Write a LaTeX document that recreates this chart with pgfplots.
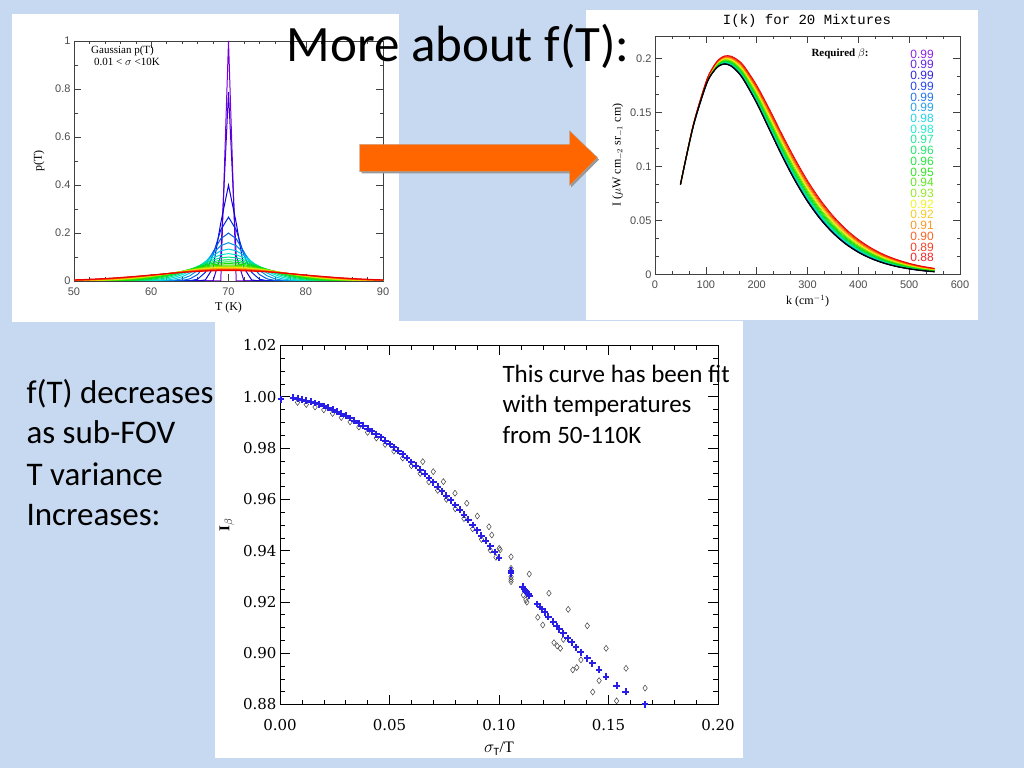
\documentclass[border=0pt]{standalone}
\usepackage{fontspec}
\setmainfont{Carlito}
\newfontfamily\idlsans{Liberation Sans}
\newfontfamily\idlserif{Liberation Serif}
\newfontfamily\idlmono{Liberation Mono}
\newfontfamily\dvserif{DejaVu Serif}
\usepackage{pgfplots}
\pgfplotsset{compat=1.18}
\usepackage{pgfplotstable}

\definecolor{slide}{RGB}{198,217,240}
\definecolor{arrow}{RGB}{255,102,0}
\definecolor{crossblue}{RGB}{40,30,230}
% rainbow, purple (small sigma) to red (large sigma)
\definecolor{r0}{RGB}{121,0,217}
\definecolor{r1}{RGB}{69,0,217}
\definecolor{r2}{RGB}{17,0,217}
\definecolor{r3}{RGB}{0,37,230}
\definecolor{r4}{RGB}{0,92,230}
\definecolor{r5}{RGB}{0,147,230}
\definecolor{r6}{RGB}{0,202,230}
\definecolor{r7}{RGB}{0,230,202}
\definecolor{r8}{RGB}{0,224,144}
\definecolor{r9}{RGB}{0,224,90}
\definecolor{r10}{RGB}{0,224,36}
\definecolor{r11}{RGB}{18,224,0}
\definecolor{r12}{RGB}{72,224,0}
\definecolor{r13}{RGB}{129,230,0}
\definecolor{r14}{RGB}{237,242,0}
\definecolor{r15}{RGB}{247,193,0}
\definecolor{r16}{RGB}{247,134,0}
\definecolor{r17}{RGB}{247,74,0}
\definecolor{r18}{RGB}{242,29,0}
\definecolor{r19}{RGB}{235,0,0}

% I(k) for the 20 mixtures, c0 = single 70 K curve
\pgfplotstableread{
k c0 c1 c2 c3 c4 c5 c6 c7 c8 c9 c10 c11 c12 c13 c14 c15 c16 c17 c18 c19
50 0.0829 0.0829 0.0829 0.0829 0.0829 0.0829 0.0829 0.0829 0.0829 0.0829 0.0830 0.0830 0.0830 0.0830 0.0830 0.0830 0.0830 0.0831 0.0831 0.0831
75 0.1367 0.1367 0.1367 0.1367 0.1368 0.1368 0.1368 0.1369 0.1370 0.1370 0.1371 0.1372 0.1373 0.1374 0.1375 0.1376 0.1376 0.1377 0.1378 0.1379
100 0.1747 0.1747 0.1747 0.1748 0.1749 0.1750 0.1751 0.1752 0.1754 0.1755 0.1757 0.1760 0.1762 0.1764 0.1767 0.1769 0.1771 0.1774 0.1776 0.1778
112.5 0.1862 0.1862 0.1863 0.1863 0.1864 0.1866 0.1867 0.1869 0.1871 0.1874 0.1877 0.1880 0.1883 0.1886 0.1890 0.1893 0.1897 0.1900 0.1903 0.1906
125 0.1927 0.1927 0.1928 0.1929 0.1930 0.1932 0.1934 0.1937 0.1940 0.1944 0.1947 0.1952 0.1956 0.1961 0.1965 0.1970 0.1975 0.1980 0.1984 0.1988
137.5 0.1948 0.1948 0.1949 0.1950 0.1952 0.1954 0.1957 0.1960 0.1964 0.1968 0.1973 0.1978 0.1984 0.1989 0.1995 0.2001 0.2007 0.2013 0.2018 0.2023
150 0.1928 0.1928 0.1929 0.1931 0.1933 0.1936 0.1939 0.1943 0.1948 0.1953 0.1958 0.1965 0.1971 0.1978 0.1985 0.1993 0.2000 0.2006 0.2013 0.2019
162.5 0.1876 0.1876 0.1877 0.1879 0.1882 0.1885 0.1889 0.1894 0.1900 0.1906 0.1913 0.1920 0.1928 0.1937 0.1945 0.1954 0.1962 0.1971 0.1979 0.1986
175 0.1797 0.1797 0.1799 0.1801 0.1804 0.1808 0.1813 0.1819 0.1825 0.1833 0.1841 0.1850 0.1860 0.1870 0.1880 0.1891 0.1901 0.1911 0.1920 0.1929
200 0.1587 0.1587 0.1589 0.1592 0.1596 0.1601 0.1607 0.1614 0.1622 0.1631 0.1642 0.1653 0.1665 0.1678 0.1690 0.1703 0.1716 0.1728 0.1740 0.1751
225 0.1342 0.1343 0.1344 0.1348 0.1352 0.1358 0.1365 0.1373 0.1383 0.1393 0.1405 0.1418 0.1432 0.1446 0.1461 0.1476 0.1491 0.1505 0.1519 0.1531
250 0.1097 0.1098 0.1100 0.1103 0.1108 0.1114 0.1121 0.1130 0.1140 0.1151 0.1164 0.1177 0.1192 0.1207 0.1222 0.1238 0.1253 0.1269 0.1283 0.1296
275 0.0872 0.0873 0.0875 0.0878 0.0883 0.0889 0.0896 0.0905 0.0915 0.0926 0.0939 0.0953 0.0968 0.0983 0.0999 0.1015 0.1030 0.1045 0.1060 0.1073
300 0.0676 0.0677 0.0678 0.0682 0.0686 0.0692 0.0699 0.0707 0.0717 0.0728 0.0740 0.0754 0.0768 0.0782 0.0797 0.0812 0.0827 0.0842 0.0855 0.0868
325 0.0514 0.0515 0.0516 0.0519 0.0524 0.0529 0.0536 0.0543 0.0552 0.0562 0.0574 0.0586 0.0599 0.0612 0.0626 0.0640 0.0654 0.0667 0.0680 0.0692
350 0.0384 0.0384 0.0386 0.0389 0.0393 0.0397 0.0403 0.0410 0.0418 0.0427 0.0437 0.0448 0.0460 0.0472 0.0484 0.0497 0.0509 0.0521 0.0533 0.0543
375 0.0282 0.0282 0.0284 0.0286 0.0290 0.0294 0.0299 0.0305 0.0312 0.0320 0.0329 0.0338 0.0348 0.0359 0.0370 0.0381 0.0391 0.0402 0.0412 0.0421
400 0.0205 0.0205 0.0207 0.0209 0.0211 0.0215 0.0219 0.0224 0.0230 0.0237 0.0245 0.0253 0.0261 0.0270 0.0279 0.0289 0.0298 0.0307 0.0315 0.0323
425 0.0147 0.0147 0.0148 0.0150 0.0152 0.0155 0.0159 0.0163 0.0168 0.0174 0.0180 0.0187 0.0194 0.0201 0.0209 0.0216 0.0224 0.0231 0.0239 0.0245
450 0.0104 0.0104 0.0105 0.0106 0.0108 0.0111 0.0114 0.0117 0.0121 0.0126 0.0131 0.0136 0.0142 0.0148 0.0154 0.0161 0.0167 0.0173 0.0179 0.0184
475 0.0073 0.0073 0.0074 0.0075 0.0077 0.0078 0.0081 0.0084 0.0087 0.0091 0.0095 0.0099 0.0104 0.0109 0.0114 0.0119 0.0124 0.0129 0.0134 0.0138
500 0.0051 0.0051 0.0052 0.0053 0.0054 0.0055 0.0057 0.0059 0.0062 0.0065 0.0068 0.0072 0.0075 0.0079 0.0083 0.0087 0.0091 0.0095 0.0099 0.0102
525 0.0035 0.0035 0.0036 0.0036 0.0037 0.0038 0.0040 0.0042 0.0044 0.0046 0.0048 0.0051 0.0054 0.0057 0.0060 0.0063 0.0066 0.0069 0.0072 0.0075
550 0.0024 0.0024 0.0024 0.0025 0.0026 0.0027 0.0028 0.0029 0.0031 0.0032 0.0034 0.0037 0.0039 0.0041 0.0044 0.0046 0.0048 0.0051 0.0053 0.0055
}\ktab

% I_beta vs sigma_T/T : blue fit points
\pgfplotstableread{
x y
0.0005 0.9990
0.006 0.9996
0.008 0.9993
0.010 0.9989
0.012 0.9985
0.014 0.9981
0.016 0.9976
0.018 0.9970
0.020 0.9964
0.022 0.9957
0.024 0.9950
0.026 0.9942
0.028 0.9934
0.030 0.9926
0.032 0.9917
0.034 0.9907
0.036 0.9897
0.038 0.9887
0.040 0.9876
0.042 0.9865
0.044 0.9854
0.046 0.9842
0.048 0.9829
0.050 0.9816
0.052 0.9803
0.054 0.9790
0.056 0.9776
0.058 0.9761
0.060 0.9746
0.062 0.9731
0.064 0.9716
0.066 0.9700
0.068 0.9683
0.070 0.9667
0.072 0.9650
0.074 0.9632
0.076 0.9615
0.078 0.9596
0.080 0.9578
0.082 0.9559
0.084 0.9540
0.086 0.9520
0.088 0.9500
0.090 0.9480
0.092 0.9459
0.094 0.9438
0.096 0.9417
0.098 0.9395
0.100 0.9373
0.1055 0.9322
0.1055 0.9312
0.1108 0.9259
0.1114 0.9250
0.1120 0.9244
0.1127 0.9238
0.1134 0.9231
0.1138 0.9224
0.1175 0.9192
0.1187 0.9181
0.1198 0.9171
0.1210 0.9160
0.1225 0.9142
0.1248 0.9123
0.1263 0.9106
0.1275 0.9093
0.1294 0.9078
0.1314 0.9058
0.1332 0.9043
0.1352 0.9023
0.1373 0.9004
0.1403 0.8980
0.1426 0.8961
0.1457 0.8935
0.1489 0.8908
0.1537 0.8873
0.1579 0.8850
0.1667 0.8801
}\bluefit

% single-temperature points (diamonds)
\pgfplotstableread{
x y
0.008 0.9978
0.012 0.9970
0.016 0.9960
0.020 0.9949
0.024 0.9935
0.028 0.9919
0.032 0.9902
0.036 0.9882
0.040 0.9861
0.044 0.9839
0.048 0.9814
0.052 0.9788
0.056 0.9761
0.060 0.9731
0.064 0.9701
0.068 0.9668
0.072 0.9635
0.076 0.9600
0.080 0.9563
0.084 0.9525
0.088 0.9485
0.092 0.9444
0.096 0.9402
0.0652 0.9747
0.0700 0.9708
0.0746 0.9669
0.0799 0.9624
0.0853 0.9585
0.0901 0.9535
0.0954 0.9493
0.0967 0.9461
0.1001 0.9409
0.0986 0.9374
0.1005 0.9403
0.1055 0.9376
0.1055 0.9331
0.1055 0.9298
0.1055 0.9288
0.1055 0.9279
0.1138 0.9309
0.1111 0.9227
0.1123 0.9208
0.1127 0.9199
0.1228 0.9234
0.1177 0.9140
0.1200 0.9110
0.1316 0.9171
0.1294 0.9054
0.1251 0.9041
0.1266 0.9028
0.1280 0.9019
0.1403 0.9107
0.1374 0.8974
0.1337 0.8935
0.1355 0.8944
0.1489 0.9019
0.1457 0.8893
0.1428 0.8849
0.1580 0.8941
0.1537 0.8814
0.1667 0.8864
}\diam

\pgfplotsset{
  idl/.style={
    scale only axis, clip=true,
    tick align=inside,
    axis line style={black!75, line width=0.6pt},
    every tick/.style={black!75, line width=0.5pt},
    major tick length=7pt, minor tick length=3.5pt,
    scaled ticks=false,
    tick label style={font=\idlsans\fontsize{11}{12}\selectfont, text=black!70},
    xticklabel style={yshift=-3pt},
    label style={font=\idlserif\fontsize{12}{13}\selectfont},
  }
}

\begin{document}
\begin{tikzpicture}
\useasboundingbox (0pt,0pt) rectangle (1024pt,768pt);
\begin{scope}[x=1pt,y=1pt]
\fill[slide] (0,0) rectangle (1024,768);
\fill[white] (12,446) rectangle (399,754);
\fill[white] (586,448) rectangle (978,758);
\fill[white] (215,10) rectangle (743,447);
\end{scope}

% ---- p(T) panel
\begin{axis}[idl, at={(74pt,487pt)}, anchor=south west, width=309pt, height=240pt,
  xmin=50, xmax=90, ymin=0, ymax=1,
  xtick={50,60,70,80,90}, xticklabels={50,60,70,80,90},
  ytick={0,0.2,0.4,0.6,0.8,1}, yticklabels={0,0.2,0.4,0.6,0.8,1},
  minor x tick num=4, minor y tick num=1,
  xlabel={T (K)}, ylabel={p(T)}, ylabel style={yshift=4pt},
  every axis plot/.append style={line width=1pt}]
\addplot[r0] coordinates {(50,0) (69,0) (70,1) (71,0) (90,0)};
\addplot[r1] coordinates {(50,0) (67,0) (68,0.0003) (69,0.1064) (70,0.7865) (71,0.1064) (72,0.0003) (73,0) (90,0)};
\addplot[r2] coordinates {(50,0) (65,0) (66,0.0001) (67,0.0044) (68,0.054) (69,0.242) (70,0.399) (71,0.242) (72,0.054) (73,0.0044) (74,0.0001) (75,0) (90,0)};
\addplot[r3] coordinates {(50,0) (63,0) (64,0.0001) (65,0.0010) (66,0.0076) (67,0.036) (68,0.109) (69,0.213) (70,0.266) (71,0.213) (72,0.109) (73,0.036) (74,0.0076) (75,0.0010) (76,0.0001) (77,0) (90,0)};
\addplot[r4] coordinates {(50,0) (61,0) (62,0.0001) (63,0.0004) (64,0.0022) (65,0.0088) (66,0.027) (67,0.0648) (68,0.121) (69,0.176) (70,0.1995) (71,0.176) (72,0.121) (73,0.0648) (74,0.027) (75,0.0088) (76,0.0022) (77,0.0004) (78,0.0001) (79,0) (90,0)};
\addplot[r5] coordinates {(50,0) (60,0) (61,0.0002) (62,0.0010) (63,0.0032) (64,0.0090) (65,0.0216) (66,0.0444) (67,0.0777) (68,0.1159) (69,0.1473) (70,0.1596) (71,0.1473) (72,0.1159) (73,0.0777) (74,0.0444) (75,0.0216) (76,0.0090) (77,0.0032) (78,0.0010) (79,0.0002) (80,0) (90,0)};
\addplot[r6] coordinates {(50,0) (58,0) (59,0.0002) (60,0.0005) (61,0.0015) (62,0.0038) (63,0.0087) (64,0.0180) (65,0.0332) (66,0.0547) (67,0.0807) (68,0.1065) (69,0.1258) (70,0.1330) (71,0.1258) (72,0.1065) (73,0.0807) (74,0.0547) (75,0.0332) (76,0.0180) (77,0.0087) (78,0.0038) (79,0.0015) (80,0.0005) (81,0.0002) (82,0) (90,0)};
\addplot[r7] coordinates {(50,0) (56,0) (57,0.0001) (58,0.0003) (59,0.0008) (60,0.0019) (61,0.0042) (62,0.0084) (63,0.0154) (64,0.0262) (65,0.0411) (66,0.0593) (67,0.0790) (68,0.0968) (69,0.1094) (70,0.1140) (71,0.1094) (72,0.0968) (73,0.0790) (74,0.0593) (75,0.0411) (76,0.0262) (77,0.0154) (78,0.0084) (79,0.0042) (80,0.0019) (81,0.0008) (82,0.0003) (83,0.0001) (84,0) (90,0)};
\addplot[r8] coordinates {(50,0) (54,0) (55,0.0001) (56,0.0002) (57,0.0005) (58,0.0011) (59,0.0023) (60,0.0044) (61,0.0079) (62,0.0135) (63,0.0216) (64,0.0324) (65,0.0457) (66,0.0605) (67,0.0753) (68,0.0880) (69,0.0967) (70,0.0997) (71,0.0967) (72,0.0880) (73,0.0753) (74,0.0605) (75,0.0457) (76,0.0324) (77,0.0216) (78,0.0135) (79,0.0079) (80,0.0044) (81,0.0023) (82,0.0011) (83,0.0005) (84,0.0002) (85,0.0001) (86,0) (90,0)};
\addplot[r9] coordinates {(50,0) (52,0) (53,0.0001) (54,0.0002) (55,0.0003) (56,0.0007) (57,0.0014) (58,0.0025) (59,0.0045) (60,0.0075) (61,0.0120) (62,0.0183) (63,0.0264) (64,0.0365) (65,0.0478) (66,0.0597) (67,0.0710) (68,0.0803) (69,0.0865) (70,0.0887) (71,0.0865) (72,0.0803) (73,0.0710) (74,0.0597) (75,0.0478) (76,0.0365) (77,0.0264) (78,0.0183) (79,0.0120) (80,0.0075) (81,0.0045) (82,0.0025) (83,0.0014) (84,0.0007) (85,0.0003) (86,0.0002) (87,0.0001) (88,0) (90,0)};
\addplot[r10] coordinates {(50,0) (51,0.0001) (52,0.0001) (53,0.0002) (54,0.0005) (55,0.0009) (56,0.0016) (57,0.0027) (58,0.0045) (59,0.0071) (60,0.0108) (61,0.0158) (62,0.0222) (63,0.0299) (64,0.0388) (65,0.0484) (66,0.0579) (67,0.0667) (68,0.0737) (69,0.0782) (70,0.0798) (71,0.0782) (72,0.0737) (73,0.0667) (74,0.0579) (75,0.0484) (76,0.0388) (77,0.0299) (78,0.0222) (79,0.0158) (80,0.0108) (81,0.0071) (82,0.0045) (83,0.0027) (84,0.0016) (85,0.0009) (86,0.0005) (87,0.0002) (88,0.0001) (89,0.0001) (90,0)};
\addplot[r11] coordinates {(50,0.0001) (51,0.0002) (52,0.0003) (53,0.0006) (54,0.0011) (55,0.0018) (56,0.0028) (57,0.0044) (58,0.0067) (59,0.0098) (60,0.0139) (61,0.0190) (62,0.0252) (63,0.0323) (64,0.0400) (65,0.0480) (66,0.0557) (67,0.0625) (68,0.0679) (69,0.0713) (70,0.0725) (71,0.0713) (72,0.0679) (73,0.0625) (74,0.0557) (75,0.0480) (76,0.0400) (77,0.0323) (78,0.0252) (79,0.0190) (80,0.0139) (81,0.0098) (82,0.0067) (83,0.0044) (84,0.0028) (85,0.0018) (86,0.0011) (87,0.0006) (88,0.0003) (89,0.0002) (90,0.0001)};
\addplot[r12] coordinates {(50,0.0003) (51,0.0004) (52,0.0007) (53,0.0012) (54,0.0019) (55,0.0029) (56,0.0044) (57,0.0064) (58,0.0090) (59,0.0124) (60,0.0166) (61,0.0216) (62,0.0273) (63,0.0337) (64,0.0403) (65,0.0470) (66,0.0532) (67,0.0587) (68,0.0629) (69,0.0656) (70,0.0665) (71,0.0656) (72,0.0629) (73,0.0587) (74,0.0532) (75,0.0470) (76,0.0403) (77,0.0337) (78,0.0273) (79,0.0216) (80,0.0166) (81,0.0124) (82,0.0090) (83,0.0064) (84,0.0044) (85,0.0029) (86,0.0019) (87,0.0012) (88,0.0007) (89,0.0004) (90,0.0003)};
\addplot[r13] coordinates {(50,0.0005) (51,0.0009) (52,0.0013) (53,0.0020) (54,0.0030) (55,0.0043) (56,0.0060) (57,0.0083) (58,0.0112) (59,0.0147) (60,0.0188) (61,0.0236) (62,0.0288) (63,0.0344) (64,0.0402) (65,0.0457) (66,0.0509) (67,0.0553) (68,0.0587) (69,0.0608) (70,0.0615) (71,0.0608) (72,0.0587) (73,0.0553) (74,0.0509) (75,0.0457) (76,0.0402) (77,0.0344) (78,0.0288) (79,0.0236) (80,0.0188) (81,0.0147) (82,0.0112) (83,0.0083) (84,0.0060) (85,0.0043) (86,0.0030) (87,0.0020) (88,0.0013) (89,0.0009) (90,0.0005)};
\addplot[r14] coordinates {(50,0.0010) (51,0.0014) (52,0.0021) (53,0.0030) (54,0.0042) (55,0.0058) (56,0.0077) (57,0.0102) (58,0.0132) (59,0.0166) (60,0.0206) (61,0.0250) (62,0.0298) (63,0.0347) (64,0.0396) (65,0.0443) (66,0.0486) (67,0.0522) (68,0.0549) (69,0.0566) (70,0.0572) (71,0.0566) (72,0.0549) (73,0.0522) (74,0.0486) (75,0.0443) (76,0.0396) (77,0.0347) (78,0.0298) (79,0.0250) (80,0.0206) (81,0.0166) (82,0.0132) (83,0.0102) (84,0.0077) (85,0.0058) (86,0.0042) (87,0.0030) (88,0.0021) (89,0.0014) (90,0.0010)};
\addplot[r15] coordinates {(50,0.0015) (51,0.0022) (52,0.0030) (53,0.0041) (54,0.0055) (55,0.0072) (56,0.0094) (57,0.0119) (58,0.0149) (59,0.0182) (60,0.0220) (61,0.0260) (62,0.0303) (63,0.0346) (64,0.0388) (65,0.0428) (66,0.0464) (67,0.0494) (68,0.0516) (69,0.0530) (70,0.0535) (71,0.0530) (72,0.0516) (73,0.0494) (74,0.0464) (75,0.0428) (76,0.0388) (77,0.0346) (78,0.0303) (79,0.0260) (80,0.0220) (81,0.0182) (82,0.0149) (83,0.0119) (84,0.0094) (85,0.0072) (86,0.0055) (87,0.0041) (88,0.0030) (89,0.0022) (90,0.0015)};
\addplot[r16] coordinates {(50,0.0022) (51,0.0030) (52,0.0040) (53,0.0053) (54,0.0068) (55,0.0087) (56,0.0109) (57,0.0135) (58,0.0164) (59,0.0196) (60,0.0231) (61,0.0268) (62,0.0306) (63,0.0344) (64,0.0380) (65,0.0415) (66,0.0445) (67,0.0470) (68,0.0488) (69,0.0500) (70,0.0504) (71,0.0500) (72,0.0488) (73,0.0470) (74,0.0445) (75,0.0415) (76,0.0380) (77,0.0344) (78,0.0306) (79,0.0268) (80,0.0231) (81,0.0196) (82,0.0164) (83,0.0135) (84,0.0109) (85,0.0087) (86,0.0068) (87,0.0053) (88,0.0040) (89,0.0030) (90,0.0022)};
\addplot[r17] coordinates {(50,0.0030) (51,0.0039) (52,0.0051) (53,0.0065) (54,0.0081) (55,0.0101) (56,0.0123) (57,0.0148) (58,0.0176) (59,0.0206) (60,0.0239) (61,0.0272) (62,0.0306) (63,0.0340) (64,0.0372) (65,0.0401) (66,0.0427) (67,0.0448) (68,0.0464) (69,0.0474) (70,0.0477) (71,0.0474) (72,0.0464) (73,0.0448) (74,0.0427) (75,0.0401) (76,0.0372) (77,0.0340) (78,0.0306) (79,0.0272) (80,0.0239) (81,0.0206) (82,0.0176) (83,0.0148) (84,0.0123) (85,0.0101) (86,0.0081) (87,0.0065) (88,0.0051) (89,0.0039) (90,0.0030)};
\addplot[r18] coordinates {(50,0.0038) (51,0.0049) (52,0.0061) (53,0.0076) (54,0.0093) (55,0.0113) (56,0.0135) (57,0.0160) (58,0.0187) (59,0.0215) (60,0.0245) (61,0.0275) (62,0.0306) (63,0.0335) (64,0.0363) (65,0.0389) (66,0.0411) (67,0.0429) (68,0.0443) (69,0.0451) (70,0.0454) (71,0.0451) (72,0.0443) (73,0.0429) (74,0.0411) (75,0.0389) (76,0.0363) (77,0.0335) (78,0.0306) (79,0.0275) (80,0.0245) (81,0.0215) (82,0.0187) (83,0.0160) (84,0.0135) (85,0.0113) (86,0.0093) (87,0.0076) (88,0.0061) (89,0.0049) (90,0.0038)};
\addplot[r19] coordinates {(50,0.0047) (51,0.0059) (52,0.0072) (53,0.0087) (54,0.0105) (55,0.0124) (56,0.0146) (57,0.0170) (58,0.0195) (59,0.0221) (60,0.0249) (61,0.0276) (62,0.0304) (63,0.0330) (64,0.0355) (65,0.0377) (66,0.0396) (67,0.0412) (68,0.0424) (69,0.0431) (70,0.0433) (71,0.0431) (72,0.0424) (73,0.0412) (74,0.0396) (75,0.0377) (76,0.0355) (77,0.0330) (78,0.0304) (79,0.0276) (80,0.0249) (81,0.0221) (82,0.0195) (83,0.0170) (84,0.0146) (85,0.0124) (86,0.0105) (87,0.0087) (88,0.0072) (89,0.0059) (90,0.0047)};
\end{axis}

% ---- I(k) panel
\begin{axis}[idl, at={(655pt,493.7pt)}, anchor=south west, width=305pt, height=238.3pt,
  xmin=0, xmax=600, ymin=0, ymax=0.2206,
  xtick={0,100,200,300,400,500,600}, xticklabels={0,100,200,300,400,500,600},
  ytick={0,0.05,0.1,0.15,0.2}, yticklabels={0,0.05,0.1,0.15,0.2},
  minor x tick num=2, minor y tick num=2,
  xlabel={k (cm$^{-1}$)},
  ylabel={I ($\mu$W cm$_{-2}$ sr$_{-1}$ cm)}]
\pgfplotsinvokeforeach{0,...,19}{
  \addplot[r#1, line width=0.8pt, smooth] table[x=k, y=c#1] {\ktab};
}
\addplot[black, line width=1.4pt, smooth] table[x=k, y=c0] {\ktab};
\end{axis}

% ---- I_beta panel
\begin{axis}[idl, at={(280pt,63.5pt)}, anchor=south west, width=438pt, height=359pt,
  xmin=0, xmax=0.2, ymin=0.88, ymax=1.02,
  axis line style={black, line width=0.7pt}, every tick/.style={black, line width=0.6pt},
  major tick length=10pt, minor tick length=5pt,
  xtick={0,0.05,0.1,0.15,0.2}, xticklabels={0.00,0.05,0.10,0.15,0.20},
  ytick={0.88,0.90,0.92,0.94,0.96,0.98,1.00,1.02},
  yticklabels={0.88,0.90,0.92,0.94,0.96,0.98,1.00,1.02},
  minor x tick num=4, minor y tick num=3,
  tick label style={font=\dvserif\fontsize{15}{16}\selectfont, text=black},
  xticklabel style={yshift=-8pt},
  xlabel={$\sigma_{\mathrm{T}}$/T}, ylabel={\bfseries I$_\beta$},
  xlabel style={font=\idlserif\fontsize{16}{17}\selectfont, yshift=-5pt},
  ylabel style={font=\idlserif\fontsize{15}{16}\selectfont, yshift=2pt}]
\addplot[only marks, mark=diamond, mark size=3pt, mark options={draw=black!75, line width=0.5pt, fill=none}] table {\diam};
\addplot[only marks, mark=+, mark size=3.4pt, mark options={draw=crossblue, line width=2pt}] table {\bluefit};
\end{axis}

\begin{scope}[x=1pt,y=1pt]
\node[anchor=north west, inner sep=0pt, align=left, font=\idlserif\fontsize{11}{11.5}\selectfont]
  at (91,722) {Gaussian p(T)\\\hspace*{3pt}0.01 < $\sigma$ <10K};
\node[font=\idlmono\fontsize{14}{14}\selectfont] at (807,747) {I(k) for 20 Mixtures};
\node[anchor=base west, font=\idlserif\bfseries\fontsize{11}{11}\selectfont] at (808,711) {Required $\beta$:};
\foreach \i/\v in {0/0.99,1/0.99,2/0.99,3/0.99,4/0.99,5/0.99,6/0.98,7/0.98,8/0.97,9/0.96,10/0.96,11/0.95,12/0.94,13/0.93,14/0.92,15/0.92,16/0.91,17/0.90,18/0.89,19/0.88}
  \node[text=r\i!85!white, inner sep=0pt, font=\idlsans\fontsize{12}{12}\selectfont] at (922,{714-10.72*\i}) {\v};

\node[anchor=base west, font=\fontsize{25}{30}\selectfont] at (499,385.6) {This curve has been fit};
\node[anchor=base west, font=\fontsize{25}{30}\selectfont] at (499,355.2) {with temperatures};
\node[anchor=base west, font=\fontsize{25}{30}\selectfont] at (499,324.7) {from 50-110K};

\node[anchor=base west, font=\fontsize{33}{40}\selectfont] at (23,364.7) {f(T) decreases};
\node[anchor=base west, font=\fontsize{33}{40}\selectfont] at (23,324) {as sub-FOV};
\node[anchor=base west, font=\fontsize{33}{40}\selectfont] at (23,282) {T variance};
\node[anchor=base west, font=\fontsize{33}{40}\selectfont] at (23,242) {Increases:};

\fill[black!40] (361.5,622) -- (571,622) -- (571,635.5) -- (599,608.5) -- (571,580.5) -- (571,594.5) -- (361.5,594.5) -- cycle;
\filldraw[fill=arrow, draw=black!35, line width=0.4pt] (359.5,623.7) -- (569.5,623.7) -- (569.5,637.3) -- (597.5,610.3) -- (569.5,582.3) -- (569.5,596.3) -- (359.5,596.3) -- cycle;

\node[anchor=base west, font=\fontsize{51}{60}\selectfont] at (283,706) {More about f(T):};
\end{scope}
\end{tikzpicture}
\end{document}
